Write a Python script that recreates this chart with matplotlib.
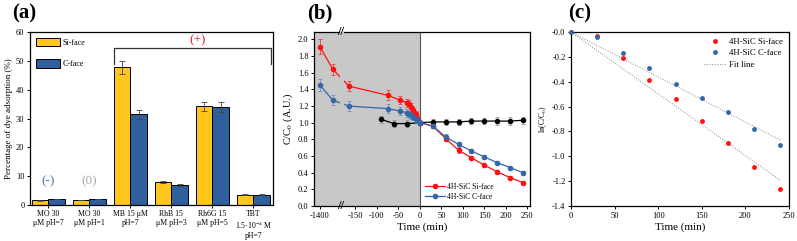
import numpy as np
import matplotlib
matplotlib.use("Agg")
from matplotlib import pyplot as plt
from matplotlib.patches import Patch
from matplotlib.lines import Line2D

plt.rcParams['font.family'] = ['Liberation Serif', 'DejaVu Serif']
plt.rcParams['mathtext.fontset'] = 'stix'

# ---- panel (a) data ----
dyes = ["MO 30\nμM pH=7", "MO 30\nμM pH=1", "MB 15 μM\npH=7", "RhB 15\nμM pH=3",
        "Rh6G 15\nμM pH=5", "TBT\n1.5·10$^{-4}$ M\npH=7"]
si_ads = [1.6, 1.7, 47.8, 7.9, 34.2, 3.5]
si_err = [0.1, 0.1, 2.3, 0.4, 1.6, 0.2]
c_ads = [2.1, 2.1, 31.4, 6.9, 34.0, 3.5]
c_err = [0.1, 0.1, 1.5, 0.3, 1.7, 0.2]

# ---- panel (b) data ----
t_si = [-1400, -1370, -165, -75, -45, -30, -25, -20, -15, -10, -5, 0,
        30, 60, 90, 120, 150, 180, 210, 240]
si_cc0 = [1.91, 1.64, 1.44, 1.33, 1.27, 1.24, 1.22, 1.19, 1.15, 1.10, 1.05, 1.00,
          0.96, 0.81, 0.67, 0.58, 0.49, 0.41, 0.34, 0.28]
si_cc0_err = [0.09, 0.07, 0.06, 0.06, 0.05, 0.05, 0.05, 0.05, 0.04, 0.04, 0.03, 0.02,
              0.02, 0.03, 0.03, 0.02, 0.02, 0.02, 0.02, 0.02]
c_cc0 = [1.45, 1.27, 1.20, 1.17, 1.14, 1.12, 1.11, 1.09, 1.07, 1.05, 1.03, 1.00,
         0.96, 0.83, 0.74, 0.66, 0.59, 0.52, 0.46, 0.40]
c_cc0_err = [0.07, 0.06, 0.06, 0.05, 0.05, 0.05, 0.05, 0.04, 0.04, 0.04, 0.03, 0.02,
             0.02, 0.03, 0.03, 0.02, 0.02, 0.02, 0.02, 0.02]
t_ctrl = [-90, -60, -30, 0, 30, 60, 90, 120, 150, 180, 210, 240]
ctrl_cc0 = [1.04, 0.99, 0.99, 1.00, 1.01, 1.01, 1.01, 1.02, 1.02, 1.02, 1.02, 1.03]
ctrl_err = [0.04, 0.04, 0.04, 0.03, 0.04, 0.04, 0.04, 0.04, 0.04, 0.05, 0.05, 0.04]

# ---- panel (c) data ----
t_kin = [0, 30, 60, 90, 120, 150, 180, 210, 240]
ln_si = [0.0, -0.03, -0.21, -0.39, -0.54, -0.72, -0.89, -1.09, -1.26]
ln_c = [0.0, -0.04, -0.17, -0.29, -0.42, -0.53, -0.64, -0.78, -0.91]

YEL = '#ffc61e'
BLU = '#2f5f9c'
RED = '#ff1010'
BLU2 = '#3567a8'

fig = plt.figure(figsize=(7.97, 2.41), dpi=100)

def style(ax, fs=6):
    for s in ax.spines.values():
        s.set_linewidth(0.9)
    ax.tick_params(labelsize=fs, width=0.7, length=2.5, pad=1.5)

# ================= (a) =================
axa = fig.add_axes([30/797, 1-205/241, 243/797, 173/241])
x = np.arange(len(dyes))
w = 0.4
axa.bar(x - w/2, si_ads, w, color=YEL, edgecolor='k', linewidth=0.7, label='Si-face')
axa.bar(x + w/2, c_ads, w, color=BLU, edgecolor='k', linewidth=0.7, label='C-face')
axa.errorbar(x - w/2, si_ads, yerr=si_err, fmt='none', ecolor='#444', elinewidth=0.6, capsize=2, capthick=0.6)
axa.errorbar(x + w/2, c_ads, yerr=c_err, fmt='none', ecolor='#444', elinewidth=0.6, capsize=2, capthick=0.6)
axa.set_xlim(-0.45, 5.48)
axa.set_ylim(0, 60)
axa.set_yticks([0, 10, 20, 30, 40, 50, 60])
axa.set_xticks(x)
style(axa)
axa.set_xticklabels(dyes, fontsize=5.6, linespacing=1.15)
axa.set_ylabel('Percentage of dye adsorption (%)', fontsize=6.5, labelpad=2)
axa.tick_params(axis='x', length=2)
# bracket over positive dyes
axa.plot([1.6, 1.6, 5.43, 5.43], [48.9, 54.4, 54.4, 48.9], color='#333', lw=0.9)
axa.text(3.65, 57.3, '(+)', color='#e8202a', fontsize=9.5, ha='center', va='center')
axa.text(0, 8.1, '(-)', color='#3b78b4', fontsize=9.5, ha='center', va='center')
axa.text(1, 8.1, '(0)', color='#aaaaaa', fontsize=9.5, ha='center', va='center')
axa.legend(handles=[Patch(facecolor=YEL, edgecolor='k', lw=0.7, label='Si-face'),
                    Patch(facecolor=BLU, edgecolor='k', lw=0.7, label='C-face')],
           loc='upper left', frameon=False, fontsize=5.8, handlelength=3.0, handleheight=1.3,
           labelspacing=1.5, handletextpad=0.3, borderaxespad=0.3)
fig.text(12/797, 1-13/241, '(a)', fontsize=15, fontweight='bold', va='center', ha='left')

# ================= (b) =================
xk = [-5000, -1352, -178, 5000]
tk = [-3832, -184, -178, 5000]
fwd = lambda v: np.interp(v, xk, tk)
inv = lambda v: np.interp(v, tk, xk)

axb = fig.add_axes([314/797, 1-206/241, 216/797, 174/241])
axb.set_xscale('function', functions=(fwd, inv))
axb.set_xlim(-1414, 256)
axb.set_ylim(0, 2.09)
axb.axvspan(-1414, 0, color='#c8c8c8', zorder=0, lw=0)
axb.axvline(0, color='#555', lw=0.8, zorder=1)
axb.errorbar(t_ctrl, ctrl_cc0, yerr=ctrl_err, color='k', ecolor='#999', marker='o', ms=3,
             lw=0.9, elinewidth=0.6, capsize=1.5, capthick=0.6, zorder=3)
axb.errorbar(t_si, si_cc0, yerr=si_cc0_err, color=RED, ecolor='#f04040', marker='o', ms=3,
             lw=0.9, elinewidth=0.6, capsize=1.5, capthick=0.6, zorder=4, label='4H-SiC Si-face')
axb.errorbar(t_si, c_cc0, yerr=c_cc0_err, color=BLU2, ecolor='#6d92c4', marker='o', ms=3,
             lw=0.9, elinewidth=0.6, capsize=1.5, capthick=0.6, zorder=4, label='4H-SiC C-face')
# gap at the axis break
axb.axvspan(-1353, -177, color='#c8c8c8', lw=0, zorder=5)
for yy in (0, 1):
    axb.text(-1352, yy, '//', transform=axb.get_xaxis_transform(), fontsize=9,
             ha='center', va='center', fontweight='bold', zorder=6, clip_on=False)
axb.set_xticks([-1400, -150, -100, -50, 0, 50, 100, 150, 200, 250])
axb.set_xticklabels(['-1400', '-150', '-100', '-50', '0', '50', '100', '150', '200', '250'])
axb.set_yticks(np.arange(0, 2.01, 0.2))
axb.set_yticklabels(['%.1f' % v for v in np.arange(0, 2.01, 0.2)])
axb.set_xlabel('Time (min)', fontsize=8, labelpad=2)
axb.set_ylabel('C/C$_0$ (A.U.)', fontsize=7.5, labelpad=2)
style(axb)
axb.legend(handles=[Line2D([], [], color=RED, marker='o', ms=3, lw=0.9, label='4H-SiC Si-face'),
                    Line2D([], [], color=BLU2, marker='o', ms=3, lw=0.9, label='4H-SiC C-face')],
           loc='lower left', bbox_to_anchor=(0.49, 0.0), frameon=False, fontsize=5.5,
           handlelength=2.6, handletextpad=0.2, labelspacing=0.25, borderaxespad=0.3)
fig.text(307/797, 1-13/241, '(b)', fontsize=15, fontweight='bold', va='center', ha='left')

# ================= (c) =================
axc = fig.add_axes([571/797, 1-206/241, 218/797, 174/241])
tt = np.array(t_kin, dtype=float)
k_si = np.sum(tt*np.array(ln_si))/np.sum(tt**2)
k_c = np.sum(tt*np.array(ln_c))/np.sum(tt**2)
axc.plot(tt, k_si*tt, ls=':', color='#888', lw=0.7)
axc.plot(tt, k_c*tt, ls=':', color='#888', lw=0.7)
axc.plot(t_kin, ln_si, 'o', color=RED, ms=3.5, mec='none', clip_on=False, zorder=4)
axc.plot(t_kin, ln_c, 'o', color=BLU2, ms=3.5, mec='none', clip_on=False, zorder=4)
axc.set_xlim(0, 250)
axc.set_ylim(-1.4, 0)
axc.set_yticks(np.arange(-1.4, 0.01, 0.2))
axc.set_yticklabels(['%.1f' % v for v in np.arange(-1.4, 0.01, 0.2)])
axc.set_xlabel('Time (min)', fontsize=8, labelpad=2)
axc.set_ylabel('ln(C/C$_0$)', fontsize=5.5, labelpad=2)
style(axc)
axc.legend(handles=[Line2D([], [], color=RED, marker='o', ms=3.5, mec='none', ls='none', label='4H-SiC Si-face'),
                    Line2D([], [], color=BLU2, marker='o', ms=3.5, mec='none', ls='none', label='4H-SiC C-face'),
                    Line2D([], [], color='#888', ls=':', lw=0.7, label='Fit line')],
           loc='upper right', frameon=False, fontsize=6.3, handlelength=2.6, handletextpad=0.3,
           labelspacing=0.35, borderaxespad=0.3)
fig.text(568/797, 1-13/241, '(c)', fontsize=15, fontweight='bold', va='center', ha='left')

fig.savefig('out.png', dpi=100)
